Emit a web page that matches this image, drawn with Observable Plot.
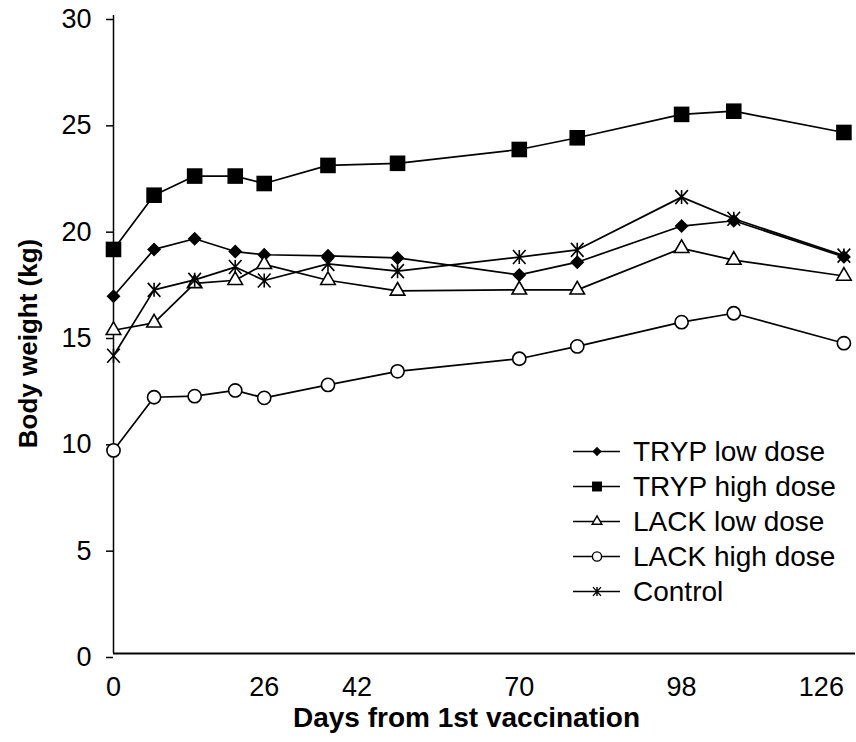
<!DOCTYPE html>
<html>
<head>
<meta charset="utf-8">
<script src="https://cdn.jsdelivr.net/npm/d3@7"></script>
<script src="https://cdn.jsdelivr.net/npm/@observablehq/plot@0.6"></script>
<style>
  body { margin: 0; background: #fff; font-family: "Liberation Sans", Arial, sans-serif; }
  #wrap { position: relative; width: 856px; height: 742px; }
  #legend { position: absolute; left: 573px; top: 434px; }
  .row { display: flex; align-items: center; height: 35px; font-size: 28px; color: #000; white-space: nowrap; }
  .row svg { margin-right: 13px; flex: none; }
</style>
</head>
<body>
<div id="wrap"></div>
<script>
// ---- data ----
const days      = [0, 7, 14, 21, 26, 37, 49, 70, 80, 98, 107, 126];
const trypLow   = [16.8, 19.0, 19.5, 18.9, 18.75, 18.7, 18.6, 17.8, 18.4, 20.1, 20.35, 18.65];
const trypHigh  = [19.0, 21.55, 22.45, 22.45, 22.1, 22.95, 23.05, 23.7, 24.25, 25.35, 25.5, 24.5];
const lackLow   = [15.2, 15.55, 17.4, 17.55, 18.3, 17.55, 17.05, 17.1, 17.1, 19.05, 18.5, 17.75];
const lackHigh  = [9.55, 12.05, 12.1, 12.37, 12.02, 12.63, 13.27, 13.86, 14.44, 15.58, 16.0, 14.59];
const control   = [14.0, 17.1, 17.57, 18.17, 17.54, 18.32, 17.98, 18.64, 18.98, 21.46, 20.44, 18.71];
const seriesNames = ["TRYP low dose", "TRYP high dose", "LACK low dose", "LACK high dose", "Control"];
const xTicks = [0, 26, 42, 70, 98, 126];
const yTicks = [0, 5, 10, 15, 20, 25, 30];
const xTitle = "Days from 1st vaccination";
const yTitle = "Body weight (kg)";

// custom asterisk-like marker: an X with a vertical bar
const starSymbol = {
  draw(ctx, size) {
    const r = Math.sqrt(size / Math.PI);
    ctx.moveTo(-0.9 * r, -r); ctx.lineTo(0.9 * r, r);
    ctx.moveTo(0.9 * r, -r); ctx.lineTo(-0.9 * r, r);
    ctx.moveTo(0, -r); ctx.lineTo(0, r);
  }
};

const valuesList = [trypLow, trypHigh, lackLow, lackHigh, control];
const styles = [
  {symbol: "diamond2", fill: "black", stroke: "none", r: 6.3, lr: 4.2},
  {symbol: "square", fill: "black", stroke: "none", r: 8.8, lr: 5.6},
  {symbol: "triangle", fill: "white", stroke: "black", r: 5.4, lr: 3.6},
  {symbol: "circle", fill: "white", stroke: "black", r: 6.6, lr: 4.6},
  {symbol: starSymbol, fill: "none", stroke: "black", r: 7, lr: 4.4}
];

const FONT = "Liberation Sans, Arial, sans-serif";
const lastTick = xTicks[xTicks.length - 1];

const marks = [
  Plot.ruleX([0], {stroke: "black", strokeWidth: 1.5}),
  Plot.axisY({ticks: yTicks, tickSize: 7, tickPadding: 15, dy: 4, fontSize: 27, label: null, strokeWidth: 1.5}),
  Plot.axisX({ticks: xTicks.slice(0, -1), tickSize: 0, tickPadding: 23, fontSize: 27, label: null}),
  // last label is right-aligned so it stays inside the picture
  Plot.axisX({ticks: [lastTick], tickSize: 0, tickPadding: 23, fontSize: 27, label: null, textAnchor: "end", dx: 0}),
  Plot.text([yTitle], {frameAnchor: "left", rotate: -90, dx: -85, dy: 9, fontSize: 26, fontWeight: "bold", textAnchor: "middle", lineAnchor: "middle"}),
  Plot.text([xTitle], {frameAnchor: "bottom", dx: -18, dy: 65, fontSize: 28, fontWeight: "bold", textAnchor: "middle", lineAnchor: "middle"})
];

seriesNames.forEach((name, k) => {
  const rows = days.map((d, i) => ({day: d, w: valuesList[k][i]}));
  const st = styles[k];
  marks.push(Plot.line(rows, {x: "day", y: "w", stroke: "black", strokeWidth: 1.7}));
  marks.push(Plot.dot(rows, {x: "day", y: "w", symbol: st.symbol, r: st.r, fill: st.fill,
    stroke: st.stroke, strokeWidth: st.stroke === "none" ? 0 : 1.6}));
});
marks.push(Plot.ruleY([0], {stroke: "black", strokeWidth: 2}));

const chart = Plot.plot({
  width: 856,
  height: 742,
  marginLeft: 113,
  marginRight: 1,
  marginTop: 15,
  marginBottom: 89,
  style: {fontFamily: FONT, fontSize: "26px", color: "black", background: "white"},
  x: {domain: [0, 128]},
  y: {domain: [0, 30]},
  marks
});
const wrap = document.getElementById("wrap");
wrap.appendChild(chart);

// ---- legend (HTML overlay inside the plot area) ----
const legend = document.createElement("div");
legend.id = "legend";
seriesNames.forEach((name, k) => {
  const st = styles[k];
  const row = document.createElement("div");
  row.className = "row";
  const svg = d3.create("svg").attr("width", 47).attr("height", 35);
  svg.append("line").attr("x1", 0).attr("x2", 47).attr("y1", 17.5).attr("y2", 17.5)
    .attr("stroke", "black").attr("stroke-width", 1.7);
  const symType = typeof st.symbol === "string"
    ? ({diamond2: d3.symbolDiamond2, square: d3.symbolSquare, triangle: d3.symbolTriangle, circle: d3.symbolCircle})[st.symbol]
    : st.symbol;
  svg.append("path")
    .attr("transform", "translate(24,17.5)")
    .attr("d", d3.symbol(symType, Math.PI * st.lr * st.lr)())
    .attr("fill", st.fill).attr("stroke", st.stroke === "none" ? null : "black")
    .attr("stroke-width", 1.4);
  row.appendChild(svg.node());
  const span = document.createElement("span");
  span.textContent = name;
  row.appendChild(span);
  legend.appendChild(row);
});
wrap.appendChild(legend);
</script>
</body>
</html>
